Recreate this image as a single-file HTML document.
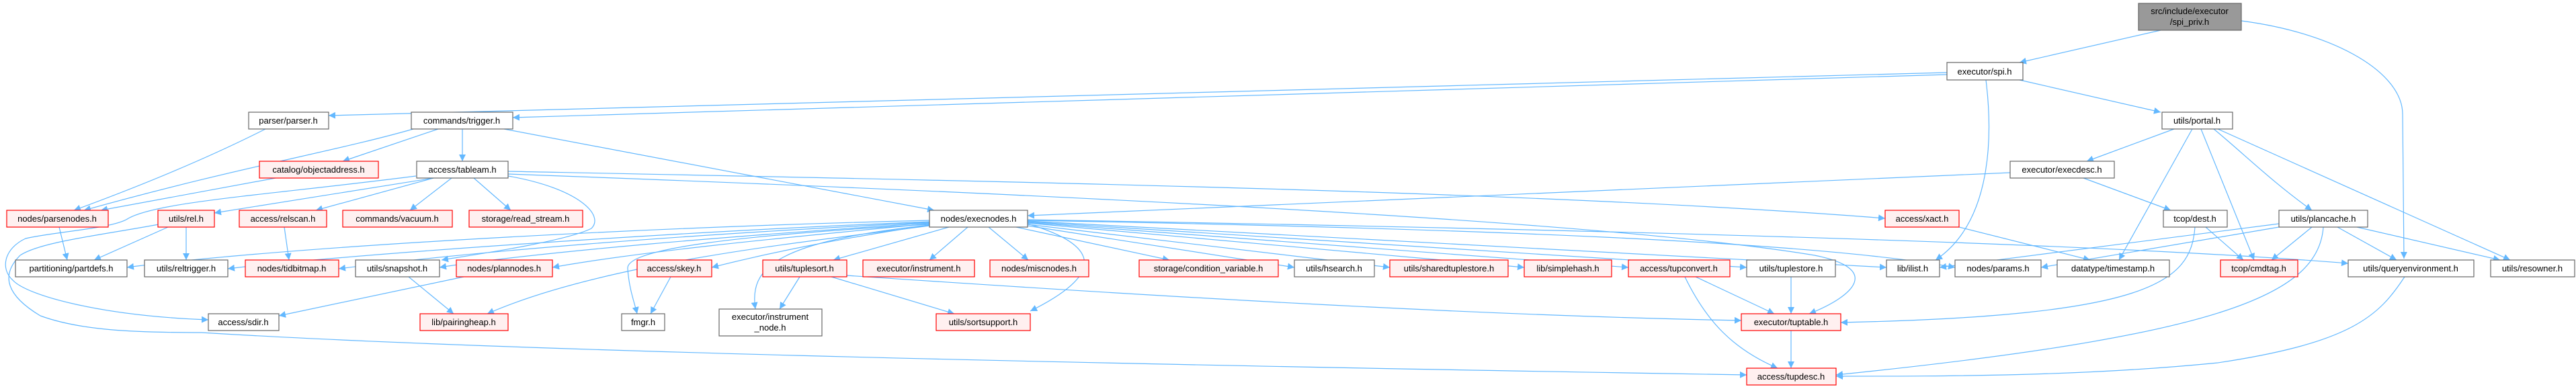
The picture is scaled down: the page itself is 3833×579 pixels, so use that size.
<!DOCTYPE html>
<html><head><meta charset="utf-8"><style>
html,body{margin:0;padding:0;background:#fff;}
svg{display:block;}
text{font-family:"Liberation Sans",sans-serif;font-size:13px;fill:#000;}
.n rect{fill:#fff;stroke:#666;stroke-width:1.2;}
.r rect{fill:#fff0f0;stroke:#ff0000;stroke-width:1.2;}
.e{fill:none;stroke:#63b8ff;stroke-width:1.2;marker-end:url(#a);}
</style></head><body>
<svg width="3833" height="579" viewBox="0 0 3833 579" xmlns="http://www.w3.org/2000/svg">
<defs><marker id="a" viewBox="0 0 10 10" refX="10" refY="5" markerWidth="10" markerHeight="10" markerUnits="userSpaceOnUse" orient="auto"><path d="M0,0 L10,5 L0,10 z" fill="#63b8ff"/></marker></defs>
<g>
<path class="e" d="M3215,45 L3005,93"/>
<path class="e" d="M3335,31 C3480,50 3575,110 3575,170 L3577,385"/>
<path class="e" d="M2897,108 L489,172"/>
<path class="e" d="M2897,111 L763,175"/>
<path class="e" d="M3005,119 L3215,167"/>
<path class="e" d="M2955,119 C2965,200 2965,330 2880,387"/>
<path class="e" d="M395,192 C300,240 200,280 110,313"/>
<path class="e" d="M615,192 C500,225 350,250 125,313"/>
<path class="e" d="M652,192 L510,240"/>
<path class="e" d="M688,192 L688,240"/>
<path class="e" d="M750,192 L1390,313"/>
<path class="e" d="M410,265 L150,313"/>
<path class="e" d="M645,265 L319,317"/>
<path class="e" d="M619,262 C400,290 236,300 191,325 C170,340 80,345 38,355 C6,370 0,400 19,417 C40,440 150,470 310,476"/>
<path class="e" d="M645,265 L470,313"/>
<path class="e" d="M672,265 L610,313"/>
<path class="e" d="M705,265 L760,313"/>
<path class="e" d="M756,255 C1500,270 2300,285 2805,325"/>
<path class="e" d="M756,259 C1600,290 2400,330 2700,380 C2800,400 2760,440 2692,467"/>
<path class="e" d="M756,262 C860,280 900,320 880,340 C840,360 700,380 657,387"/>
<path class="e" d="M236,334 C150,350 60,360 30,380 C0,410 10,440 60,470 C120,492 200,495 300,495 C700,520 1500,540 2599,558"/>
<path class="e" d="M250,338 L140,387"/>
<path class="e" d="M277,338 L277,387"/>
<path class="e" d="M423,338 L430,387"/>
<path class="e" d="M88,338 L100,387"/>
<path class="e" d="M690,412 L415,470"/>
<path class="e" d="M608,412 L675,467"/>
<path class="e" d="M998,412 L968,467"/>
<path class="e" d="M1383,328 C900,340 400,370 189,398"/>
<path class="e" d="M1383,330 C1000,345 500,380 339,400"/>
<path class="e" d="M1383,331 C1000,350 700,375 504,400"/>
<path class="e" d="M1383,332 C1100,350 800,375 654,398"/>
<path class="e" d="M1383,333 C1150,355 950,375 822,398"/>
<path class="e" d="M1383,335 C1250,355 1150,375 1059,398"/>
<path class="e" d="M1383,336 C1200,360 900,390 725,467"/>
<path class="e" d="M1383,334 C1100,350 930,370 934,400 C936,430 944,450 948,467"/>
<path class="e" d="M1412,338 L1240,387"/>
<path class="e" d="M1440,338 L1383,387"/>
<path class="e" d="M1471,338 L1530,387"/>
<path class="e" d="M1512,338 L1740,387"/>
<path class="e" d="M1529,336 L1926,398"/>
<path class="e" d="M1529,334 L2068,398"/>
<path class="e" d="M1529,332 L2268,398"/>
<path class="e" d="M1529,331 L2423,398"/>
<path class="e" d="M1529,330 L2599,398"/>
<path class="e" d="M1529,329 L2807,398"/>
<path class="e" d="M1529,328 C2200,340 2700,360 2909,398"/>
<path class="e" d="M1529,327 C2300,340 3100,360 3494,392"/>
<path class="e" d="M1383,335 C1150,360 1115,400 1124,460"/>
<path class="e" d="M1529,333 C1620,360 1660,400 1533,463"/>
<path class="e" d="M1190,412 L1160,460"/>
<path class="e" d="M1237,412 L1420,467"/>
<path class="e" d="M1260,410 C1700,440 2200,470 2591,477"/>
<path class="e" d="M2507,412 C2540,480 2580,520 2645,548"/>
<path class="e" d="M2523,412 L2640,467"/>
<path class="e" d="M2665,412 L2665,467"/>
<path class="e" d="M2665,492 L2665,548"/>
<path class="e" d="M2915,338 L3110,387"/>
<path class="e" d="M2991,257 L1529,321"/>
<path class="e" d="M3100,265 L3230,313"/>
<path class="e" d="M3235,192 L3105,240"/>
<path class="e" d="M3262,192 L3153,387"/>
<path class="e" d="M3275,192 L3354,387"/>
<path class="e" d="M3294,192 C3340,230 3380,270 3440,313"/>
<path class="e" d="M3300,192 L3735,387"/>
<path class="e" d="M3282,338 L3338,387"/>
<path class="e" d="M3266,338 C3260,420 3200,470 2739,480"/>
<path class="e" d="M3391,333 L2886,398"/>
<path class="e" d="M3391,338 L3037,398"/>
<path class="e" d="M3440,338 L3380,387"/>
<path class="e" d="M3457,338 C3450,440 3300,500 2732,558"/>
<path class="e" d="M3478,338 L3566,387"/>
<path class="e" d="M3507,338 L3720,387"/>
<path class="e" d="M3578,412 C3540,470 3500,510 3300,540 C3100,560 2900,560 2732,560"/>
</g>
<g>
<g class="n"><rect x="3182" y="5" width="153" height="40" style="fill:#999"/><text x="3258" y="21" text-anchor="middle">src/include/executor</text><text x="3258" y="37" text-anchor="middle">/spi_priv.h</text></g>
<g class="n"><rect x="2897" y="93" width="113" height="26"/><text x="2953" y="111" text-anchor="middle">executor/spi.h</text></g>
<g class="n"><rect x="370" y="167" width="119" height="25"/><text x="429" y="184" text-anchor="middle">parser/parser.h</text></g>
<g class="n"><rect x="612" y="167" width="151" height="25"/><text x="687" y="184" text-anchor="middle">commands/trigger.h</text></g>
<g class="n"><rect x="3217" y="167" width="105" height="25"/><text x="3269" y="184" text-anchor="middle">utils/portal.h</text></g>
<g class="r"><rect x="386" y="240" width="177" height="25"/><text x="474" y="257" text-anchor="middle">catalog/objectaddress.h</text></g>
<g class="n"><rect x="620" y="240" width="136" height="25"/><text x="688" y="257" text-anchor="middle">access/tableam.h</text></g>
<g class="n"><rect x="2991" y="240" width="155" height="25"/><text x="3068" y="257" text-anchor="middle">executor/execdesc.h</text></g>
<g class="r"><rect x="10" y="313" width="151" height="25"/><text x="85" y="330" text-anchor="middle">nodes/parsenodes.h</text></g>
<g class="r"><rect x="235" y="313" width="84" height="25"/><text x="277" y="330" text-anchor="middle">utils/rel.h</text></g>
<g class="r"><rect x="356" y="313" width="130" height="25"/><text x="421" y="330" text-anchor="middle">access/relscan.h</text></g>
<g class="r"><rect x="510" y="313" width="163" height="25"/><text x="591" y="330" text-anchor="middle">commands/vacuum.h</text></g>
<g class="r"><rect x="698" y="313" width="169" height="25"/><text x="782" y="330" text-anchor="middle">storage/read_stream.h</text></g>
<g class="n"><rect x="1383" y="313" width="146" height="25"/><text x="1456" y="330" text-anchor="middle">nodes/execnodes.h</text></g>
<g class="r"><rect x="2805" y="313" width="110" height="25"/><text x="2860" y="330" text-anchor="middle">access/xact.h</text></g>
<g class="n"><rect x="3219" y="313" width="95" height="25"/><text x="3266" y="330" text-anchor="middle">tcop/dest.h</text></g>
<g class="n"><rect x="3391" y="313" width="132" height="25"/><text x="3457" y="330" text-anchor="middle">utils/plancache.h</text></g>
<g class="n"><rect x="23" y="387" width="166" height="25"/><text x="106" y="404" text-anchor="middle">partitioning/partdefs.h</text></g>
<g class="n"><rect x="215" y="387" width="124" height="25"/><text x="277" y="404" text-anchor="middle">utils/reltrigger.h</text></g>
<g class="r"><rect x="365" y="387" width="139" height="25"/><text x="434" y="404" text-anchor="middle">nodes/tidbitmap.h</text></g>
<g class="n"><rect x="529" y="387" width="125" height="25"/><text x="591" y="404" text-anchor="middle">utils/snapshot.h</text></g>
<g class="r"><rect x="679" y="387" width="143" height="25"/><text x="750" y="404" text-anchor="middle">nodes/plannodes.h</text></g>
<g class="r"><rect x="948" y="387" width="111" height="25"/><text x="1003" y="404" text-anchor="middle">access/skey.h</text></g>
<g class="r"><rect x="1135" y="387" width="125" height="25"/><text x="1197" y="404" text-anchor="middle">utils/tuplesort.h</text></g>
<g class="r"><rect x="1284" y="387" width="166" height="25"/><text x="1367" y="404" text-anchor="middle">executor/instrument.h</text></g>
<g class="r"><rect x="1473" y="387" width="147" height="25"/><text x="1546" y="404" text-anchor="middle">nodes/miscnodes.h</text></g>
<g class="r"><rect x="1695" y="387" width="207" height="25"/><text x="1798" y="404" text-anchor="middle">storage/condition_variable.h</text></g>
<g class="n"><rect x="1926" y="387" width="119" height="25"/><text x="1985" y="404" text-anchor="middle">utils/hsearch.h</text></g>
<g class="r"><rect x="2068" y="387" width="176" height="25"/><text x="2156" y="404" text-anchor="middle">utils/sharedtuplestore.h</text></g>
<g class="r"><rect x="2268" y="387" width="130" height="25"/><text x="2333" y="404" text-anchor="middle">lib/simplehash.h</text></g>
<g class="r"><rect x="2423" y="387" width="151" height="25"/><text x="2498" y="404" text-anchor="middle">access/tupconvert.h</text></g>
<g class="n"><rect x="2599" y="387" width="132" height="25"/><text x="2665" y="404" text-anchor="middle">utils/tuplestore.h</text></g>
<g class="n"><rect x="2807" y="387" width="79" height="25"/><text x="2846" y="404" text-anchor="middle">lib/ilist.h</text></g>
<g class="n"><rect x="2909" y="387" width="128" height="25"/><text x="2973" y="404" text-anchor="middle">nodes/params.h</text></g>
<g class="n"><rect x="3061" y="387" width="167" height="25"/><text x="3144" y="404" text-anchor="middle">datatype/timestamp.h</text></g>
<g class="r"><rect x="3304" y="387" width="115" height="25"/><text x="3361" y="404" text-anchor="middle">tcop/cmdtag.h</text></g>
<g class="n"><rect x="3494" y="387" width="187" height="25"/><text x="3587" y="404" text-anchor="middle">utils/queryenvironment.h</text></g>
<g class="n"><rect x="3706" y="387" width="125" height="25"/><text x="3768" y="404" text-anchor="middle">utils/resowner.h</text></g>
<g class="n"><rect x="310" y="467" width="105" height="25"/><text x="362" y="484" text-anchor="middle">access/sdir.h</text></g>
<g class="r"><rect x="625" y="467" width="131" height="25"/><text x="690" y="484" text-anchor="middle">lib/pairingheap.h</text></g>
<g class="n"><rect x="925" y="467" width="64" height="25"/><text x="957" y="484" text-anchor="middle">fmgr.h</text></g>
<g class="n"><rect x="1070" y="460" width="153" height="40"/><text x="1146" y="476" text-anchor="middle">executor/instrument</text><text x="1146" y="492" text-anchor="middle">_node.h</text></g>
<g class="r"><rect x="1393" y="467" width="140" height="25"/><text x="1463" y="484" text-anchor="middle">utils/sortsupport.h</text></g>
<g class="r"><rect x="2591" y="467" width="148" height="25"/><text x="2665" y="484" text-anchor="middle">executor/tuptable.h</text></g>
<g class="r"><rect x="2599" y="548" width="133" height="25"/><text x="2665" y="565" text-anchor="middle">access/tupdesc.h</text></g>
</g>
</svg>
</body></html>
